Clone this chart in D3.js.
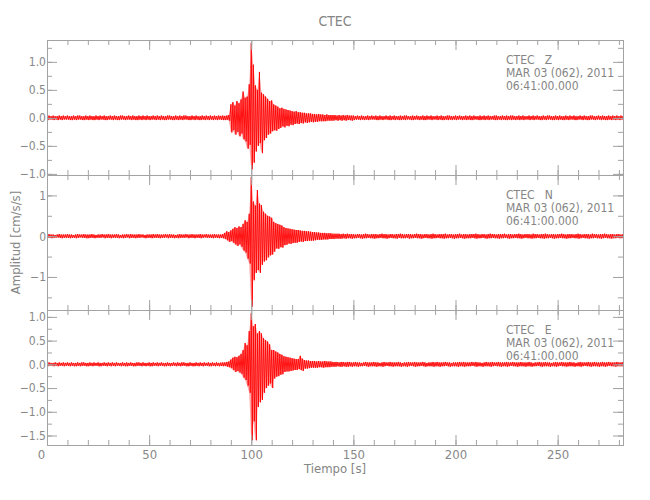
<!DOCTYPE html>
<html><head><meta charset="utf-8">
<script src="https://cdn.jsdelivr.net/npm/d3@7"></script>
<style>
html,body{margin:0;padding:0;background:#fff;}
text{font-family:'DejaVu Sans Condensed','Liberation Sans Narrow','Liberation Sans',sans-serif;fill:#858585;}
</style></head>
<body><svg id="c" width="650" height="500"></svg>
<script>
// ---- data: per-second envelope (max / min) of each component, cm/s/s ----
const sampleStep = 1; // s
const zMax = [
.03,.04,.03,.04,.03,.03,.04,.03,.04,.03, .04,.03,.03,.04,.03,.04,.04,.03,.03,.04,
.03,.04,.03,.03,.04,.03,.04,.03,.04,.03, .03,.04,.03,.04,.03,.03,.04,.04,.03,.03,
.04,.03,.04,.03,.03,.04,.03,.04,.03,.04, .03,.03,.04,.03,.04,.03,.04,.03,.03,.04,
.04,.03,.03,.04,.03,.04,.03,.04,.04,.03, .03,.04,.03,.04,.03,.03,.04,.03,.04,.03,
.04,.03,.04,.03,.04,.035,.04,.035,.04,.05, .24,.28,.22,.30,.26,.33,.47,.36,.38,.60,
1.34,.95,.58,.50,.82,.45,.42,.38,.34,.30, .31,.24,.22,.20,.17,.18,.16,.15,.14,.13,
.12,.11,.12,.10,.10,.09,.09,.08,.08,.08, .07,.07,.06,.07,.06,.06,.05,.06,.05,.05,
.05,.05,.04,.05,.04,.05,.04,.05,.04,.04, .04,.03,.04,.03,.04,.03,.03,.04,.03,.04,
.03,.04,.03,.04,.03,.03,.04,.03,.04,.03, .04,.03,.03,.04,.03,.04,.04,.03,.03,.04,
.03,.04,.03,.03,.04,.03,.04,.03,.04,.03, .03,.04,.03,.04,.03,.03,.04,.04,.03,.03,
.04,.03,.04,.03,.03,.04,.03,.04,.03,.04, .03,.03,.04,.03,.04,.03,.04,.03,.03,.04,
.04,.03,.03,.04,.03,.04,.03,.04,.04,.03, .03,.04,.03,.04,.03,.03,.04,.03,.04,.03,
.04,.03,.03,.04,.03,.04,.04,.03,.03,.04, .03,.04,.03,.03,.04,.03,.04,.03,.04,.03,
.03,.04,.03,.04,.03,.03,.04,.04,.03,.03, .04,.03,.04,.03,.03,.04,.03,.04,.03,.04,
.03,.04,.03];
const zMin = [
-.04,-.03,-.03,-.04,-.03,-.04,-.03,-.04,-.03,-.03, -.03,-.04,-.04,-.03,-.04,-.03,-.03,-.04,-.04,-.03,
-.04,-.03,-.04,-.04,-.03,-.04,-.03,-.03,-.04,-.04, -.03,-.03,-.04,-.03,-.04,-.04,-.03,-.03,-.04,-.03,
-.03,-.04,-.03,-.04,-.04,-.03,-.04,-.03,-.04,-.03, -.04,-.03,-.03,-.04,-.03,-.04,-.03,-.04,-.04,-.03,
-.03,-.04,-.04,-.03,-.04,-.03,-.04,-.03,-.03,-.04, -.04,-.03,-.04,-.03,-.04,-.04,-.03,-.04,-.03,-.04,
-.03,-.04,-.03,-.04,-.03,-.035,-.04,-.04,-.035,-.05, -.26,-.22,-.30,-.25,-.33,-.28,-.38,-.42,-.55,-.48,
-.92,-.80,-.60,-.50,-.45,-.63,-.40,-.36,-.30,-.28, -.24,-.22,-.23,-.20,-.18,-.15,-.17,-.14,-.15,-.12,
-.13,-.11,-.10,-.11,-.09,-.10,-.08,-.09,-.08,-.07, -.08,-.07,-.07,-.06,-.06,-.06,-.06,-.05,-.05,-.05,
-.05,-.04,-.05,-.04,-.05,-.04,-.05,-.04,-.04,-.05, -.04,-.03,-.03,-.04,-.03,-.04,-.03,-.04,-.03,-.03,
-.03,-.04,-.04,-.03,-.04,-.03,-.03,-.04,-.04,-.03, -.04,-.03,-.04,-.04,-.03,-.04,-.03,-.03,-.04,-.04,
-.03,-.03,-.04,-.03,-.04,-.04,-.03,-.03,-.04,-.03, -.03,-.04,-.03,-.04,-.04,-.03,-.04,-.03,-.04,-.03,
-.04,-.03,-.03,-.04,-.03,-.04,-.03,-.04,-.04,-.03, -.03,-.04,-.04,-.03,-.04,-.03,-.04,-.03,-.03,-.04,
-.04,-.03,-.04,-.03,-.04,-.04,-.03,-.04,-.03,-.04, -.03,-.04,-.03,-.04,-.03,-.03,-.04,-.03,-.04,-.03,
-.03,-.04,-.04,-.03,-.04,-.03,-.03,-.04,-.04,-.03, -.04,-.03,-.04,-.04,-.03,-.04,-.03,-.03,-.04,-.04,
-.03,-.03,-.04,-.03,-.04,-.04,-.03,-.03,-.04,-.03, -.03,-.04,-.03,-.04,-.04,-.03,-.04,-.03,-.04,-.03,
-.04,-.03,-.03];
const nMax = [
.04,.05,.04,.04,.03,.04,.05,.04,.04,.04, .05,.04,.04,.03,.04,.05,.04,.04,.05,.04,
.04,.04,.05,.04,.03,.04,.04,.05,.04,.04, .05,.04,.04,.04,.05,.04,.03,.04,.04,.05,
.04,.05,.04,.04,.04,.05,.04,.04,.03,.04, .04,.04,.05,.04,.05,.04,.04,.04,.05,.04,
.05,.04,.04,.03,.04,.05,.04,.04,.05,.04, .04,.05,.04,.04,.04,.05,.04,.04,.05,.04,
.04,.04,.05,.04,.04,.04,.05,.08,.12,.10, .14,.18,.22,.20,.24,.22,.30,.39,.35,.55,
1.45,.85,.75,1.13,.80,.76,.60,.55,.50,.48, .45,.35,.32,.30,.28,.26,.22,.20,.19,.18,
.17,.16,.15,.15,.14,.13,.13,.12,.12,.11, .10,.10,.09,.09,.08,.08,.08,.07,.07,.07,
.06,.06,.06,.06,.05,.06,.05,.06,.05,.05, .05,.04,.05,.05,.04,.05,.06,.05,.04,.05,
.05,.05,.04,.05,.06,.05,.05,.04,.05,.05, .04,.05,.05,.06,.05,.04,.05,.05,.05,.04,
.05,.06,.05,.05,.04,.05,.05,.04,.05,.06, .05,.04,.05,.05,.05,.06,.04,.05,.05,.04,
.05,.05,.06,.04,.05,.05,.04,.05,.05,.05, .06,.05,.04,.05,.05,.04,.05,.06,.05,.05,
.04,.05,.05,.05,.06,.04,.05,.05,.04,.05, .05,.06,.05,.04,.05,.05,.05,.04,.06,.05,
.05,.04,.05,.05,.06,.05,.04,.05,.05,.04, .05,.05,.06,.05,.04,.05,.05,.05,.04,.05,
.06,.05,.04,.05,.05,.05,.04,.06,.05,.05, .04,.05,.05,.06,.05,.04,.05,.05,.04,.05,
.05,.04,.05];
const nMin = [
-.04,-.04,-.05,-.04,-.04,-.03,-.04,-.05,-.04,-.04, -.04,-.05,-.04,-.04,-.05,-.04,-.03,-.04,-.04,-.05,
-.05,-.04,-.04,-.05,-.04,-.04,-.04,-.03,-.05,-.04, -.04,-.05,-.04,-.04,-.04,-.05,-.04,-.05,-.04,-.03,
-.05,-.04,-.04,-.05,-.04,-.04,-.03,-.04,-.05,-.04, -.04,-.05,-.04,-.04,-.04,-.05,-.04,-.04,-.03,-.05,
-.04,-.04,-.05,-.04,-.05,-.04,-.04,-.04,-.03,-.05, -.04,-.04,-.05,-.04,-.04,-.05,-.04,-.03,-.04,-.04,
-.04,-.05,-.04,-.04,-.05,-.04,-.05,-.07,-.10,-.14, -.12,-.16,-.20,-.24,-.20,-.26,-.35,-.40,-.55,-.67,
-1.73,-1.08,-.90,-.83,-.90,-.70,-.62,-.59,-.52,-.47, -.45,-.38,-.30,-.31,-.27,-.28,-.22,-.21,-.18,-.19,
-.17,-.16,-.16,-.14,-.13,-.14,-.12,-.12,-.11,-.11, -.11,-.10,-.09,-.09,-.09,-.08,-.08,-.08,-.07,-.07,
-.07,-.06,-.06,-.06,-.06,-.05,-.06,-.05,-.05,-.06, -.05,-.05,-.04,-.05,-.06,-.05,-.05,-.04,-.05,-.05,
-.06,-.05,-.05,-.04,-.05,-.05,-.06,-.05,-.04,-.05, -.05,-.06,-.04,-.05,-.05,-.05,-.04,-.06,-.05,-.05,
-.04,-.05,-.05,-.06,-.05,-.04,-.05,-.05,-.06,-.05, -.05,-.04,-.05,-.05,-.06,-.05,-.05,-.04,-.05,-.06,
-.05,-.05,-.04,-.05,-.06,-.05,-.05,-.05,-.04,-.05, -.06,-.05,-.05,-.04,-.05,-.06,-.05,-.05,-.04,-.05,
-.05,-.06,-.05,-.05,-.04,-.05,-.06,-.05,-.05,-.04, -.05,-.05,-.06,-.05,-.04,-.05,-.05,-.06,-.05,-.05,
-.04,-.05,-.05,-.06,-.05,-.05,-.04,-.05,-.06,-.05, -.05,-.04,-.05,-.05,-.06,-.05,-.05,-.04,-.05,-.05,
-.06,-.05,-.04,-.05,-.05,-.06,-.05,-.05,-.04,-.05, -.05,-.06,-.05,-.04,-.05,-.05,-.06,-.05,-.05,-.04,
-.05,-.05,-.04];
const eMax = [
.03,.04,.03,.03,.04,.03,.04,.03,.04,.03, .04,.03,.04,.03,.03,.04,.03,.04,.04,.03,
.03,.04,.03,.04,.03,.04,.03,.03,.04,.03, .04,.03,.04,.03,.04,.03,.03,.04,.03,.04,
.03,.04,.03,.03,.04,.04,.03,.04,.03,.03, .04,.03,.04,.03,.04,.03,.04,.03,.03,.04,
.03,.03,.04,.03,.04,.03,.04,.04,.03,.03, .04,.03,.03,.04,.03,.04,.03,.04,.03,.04,
.03,.04,.03,.04,.03,.035,.04,.04,.05,.06, .10,.14,.16,.15,.18,.22,.30,.45,.40,.70,
1.08,.80,.85,.65,.70,.65,.55,.51,.48,.42, .30,.30,.27,.25,.22,.20,.17,.16,.15,.14,
.13,.12,.11,.11,.18,.12,.09,.08,.08,.07, .07,.07,.06,.07,.06,.06,.07,.06,.06,.06,
.05,.05,.05,.04,.05,.05,.04,.05,.05,.04, .04,.05,.04,.04,.03,.04,.05,.04,.04,.04,
.05,.04,.04,.03,.04,.05,.04,.04,.05,.04, .04,.04,.05,.04,.03,.04,.04,.05,.04,.04,
.05,.04,.04,.04,.05,.04,.03,.04,.04,.05, .04,.05,.04,.04,.04,.05,.04,.04,.03,.04,
.04,.04,.05,.04,.05,.04,.04,.04,.05,.04, .05,.04,.04,.03,.04,.05,.04,.04,.05,.04,
.04,.05,.04,.04,.04,.05,.04,.04,.05,.04, .04,.04,.05,.04,.04,.04,.05,.04,.03,.04,
.04,.05,.04,.04,.05,.04,.04,.03,.04,.05, .04,.04,.05,.04,.04,.04,.05,.04,.04,.03,
.04,.05,.04,.04,.04,.05,.04,.04,.05,.04, .04,.04,.05,.04,.04,.05,.04,.04,.04,.05,
.04,.04,.05];
const eMin = [
-.04,-.03,-.03,-.04,-.03,-.04,-.03,-.03,-.04,-.03, -.03,-.04,-.03,-.04,-.04,-.03,-.04,-.03,-.03,-.04,
-.04,-.03,-.04,-.03,-.03,-.04,-.04,-.03,-.03,-.04, -.03,-.04,-.03,-.04,-.03,-.03,-.04,-.03,-.04,-.04,
-.03,-.03,-.04,-.04,-.03,-.03,-.04,-.03,-.04,-.03, -.04,-.04,-.03,-.03,-.04,-.03,-.03,-.04,-.04,-.03,
-.04,-.03,-.03,-.04,-.03,-.04,-.03,-.03,-.04,-.04, -.03,-.04,-.04,-.03,-.04,-.03,-.04,-.03,-.03,-.04,
-.04,-.03,-.04,-.03,-.04,-.035,-.04,-.035,-.05,-.06, -.08,-.12,-.16,-.14,-.17,-.20,-.28,-.33,-.45,-.60,
-1.60,-1.20,-1.60,-.90,-.80,-.75,-.60,-.50,-.45,-.40, -.50,-.30,-.26,-.25,-.22,-.21,-.16,-.15,-.15,-.14,
-.13,-.12,-.12,-.10,-.12,-.14,-.09,-.09,-.08,-.07, -.07,-.07,-.07,-.06,-.06,-.07,-.06,-.06,-.06,-.05,
-.05,-.05,-.04,-.05,-.05,-.04,-.05,-.05,-.04,-.05, -.04,-.04,-.05,-.04,-.04,-.03,-.04,-.05,-.04,-.04,
-.04,-.05,-.04,-.04,-.05,-.04,-.03,-.04,-.04,-.05, -.04,-.04,-.04,-.05,-.04,-.04,-.05,-.04,-.03,-.04,
-.05,-.04,-.04,-.03,-.04,-.05,-.04,-.04,-.04,-.05, -.04,-.04,-.05,-.04,-.04,-.03,-.04,-.05,-.04,-.04,
-.04,-.05,-.04,-.04,-.05,-.04,-.04,-.04,-.03,-.04, -.05,-.04,-.04,-.05,-.04,-.04,-.04,-.05,-.04,-.03,
-.04,-.04,-.05,-.04,-.04,-.05,-.04,-.03,-.04,-.04, -.05,-.04,-.04,-.04,-.05,-.04,-.04,-.05,-.04,-.04,
-.03,-.04,-.05,-.04,-.04,-.04,-.05,-.04,-.04,-.05, -.04,-.03,-.04,-.04,-.05,-.04,-.04,-.04,-.05,-.04,
-.04,-.05,-.04,-.03,-.04,-.04,-.05,-.04,-.04,-.04, -.05,-.04,-.04,-.05,-.04,-.03,-.04,-.04,-.05,-.04,
-.04,-.04,-.05];

const components = ["Z", "N", "E"];
const stationName = "CTEC";
const dateLine = "MAR 03 (062), 2011";
const timeLine = "06:41:00.000";
const timeRange = [0, 282];
const xMajorTicks = [0, 50, 100, 150, 200, 250];
const xMinorTicks = d3.range(0, 290, 10);
const yRanges = [[-1.02, 1.39], [-1.81, 1.50], [-1.70, 1.145]];
const yMajorTicks = [[-1, -0.5, 0, 0.5, 1], [-1, 0, 1], [-1.5, -1, -0.5, 0, 0.5, 1]];
const yMinorTicks = [d3.range(-1, 1.3, 0.25), d3.range(-1.5, 1.6, 0.5), d3.range(-1.5, 1.1, 0.25)];
const yTickFormats = [".1f", ".0f", ".1f"];
const xTitle = "Tiempo [s]";
const yTitle = "Amplitud [cm/s/s]";

// ---- layout ----
const svg = d3.select("#c");
const L = 47, R = 623;
const panelTops = [40, 175, 310], panelH = 135;
const axisColor = "#a3a3a3";
const textColor = "#888888";
const x = d3.scaleLinear().domain(timeRange).range([L, R]);
const series = [[zMax, zMin], [nMax, nMin], [eMax, eMin]];

svg.append("text").attr("x", (L + R) / 2).attr("y", 26).attr("text-anchor", "middle")
  .style("font-size", "14px").text(stationName);

function fmtMinus(f) { const g = d3.format(f); return v => g(v).replace("-", "\u2212"); }

series.forEach(([hi, lo], p) => {
  const top = panelTops[p], bot = top + panelH;
  const y = d3.scaleLinear().domain(yRanges[p]).range([bot, top]);
  const g = svg.append("g");
  const cid = "clip" + p;
  svg.append("clipPath").attr("id", cid).append("rect").attr("x", L).attr("y", top).attr("width", R - L).attr("height", panelH);

  // waveform drawn from its per-sample max/min envelope
  const pts = [];
  hi.forEach((v, i) => { pts.push([i * sampleStep, v]); pts.push([i * sampleStep + sampleStep / 2, lo[i]]); });
  g.append("path").attr("clip-path", `url(#${cid})`)
    .attr("d", d3.area().x((d, i) => x(i * sampleStep)).y0((d, i) => y(lo[i])).y1(d => y(d))(hi))
    .attr("fill", "#ff0000").attr("fill-opacity", 0.35).attr("stroke", "none");
  g.append("path").attr("clip-path", `url(#${cid})`)
    .attr("d", d3.line().x(d => x(d[0])).y(d => y(d[1]))(pts))
    .attr("fill", "none").attr("stroke", "#ff0000").attr("stroke-width", 0.9);

  // axes (inward ticks on all four sides)
  const style = sel => { sel.selectAll("path,line").attr("stroke", axisColor); };
  const yl = g.append("g").attr("transform", `translate(${L},0)`)
    .call(d3.axisLeft(y).tickValues(yMajorTicks[p]).tickSize(-10).tickSizeOuter(0).tickPadding(1).tickFormat(fmtMinus(yTickFormats[p])));
  yl.call(style); yl.selectAll("text").style("font-size", "12px").style("fill", textColor).attr("font-family", null);
  g.append("g").attr("transform", `translate(${L},0)`)
    .call(d3.axisLeft(y).tickValues(yMinorTicks[p]).tickSize(-5).tickSizeOuter(0).tickFormat("")).call(style);
  g.append("g").attr("transform", `translate(${R},0)`)
    .call(d3.axisRight(y).tickValues(yMajorTicks[p]).tickSize(-10).tickSizeOuter(0).tickFormat("")).call(style);
  g.append("g").attr("transform", `translate(${R},0)`)
    .call(d3.axisRight(y).tickValues(yMinorTicks[p]).tickSize(-5).tickSizeOuter(0).tickFormat("")).call(style);
  g.append("g").attr("transform", `translate(0,${top})`)
    .call(d3.axisTop(x).tickValues(xMajorTicks).tickSize(-10).tickSizeOuter(0).tickFormat("")).call(style);
  g.append("g").attr("transform", `translate(0,${top})`)
    .call(d3.axisTop(x).tickValues(xMinorTicks).tickSize(-5).tickSizeOuter(0).tickFormat("")).call(style);
  const xb = g.append("g").attr("transform", `translate(0,${bot})`)
    .call(d3.axisBottom(x).tickValues(xMajorTicks).tickSize(-10).tickSizeOuter(0).tickPadding(5)
      .tickFormat(p === 2 ? d3.format("d") : ""));
  xb.call(style); xb.selectAll("text").style("font-size", "13px").style("fill", textColor).attr("font-family", null);
  xb.selectAll("text").filter(d => d === 0).attr("dx", -6);
  g.append("g").attr("transform", `translate(0,${bot})`)
    .call(d3.axisBottom(x).tickValues(xMinorTicks).tickSize(-5).tickSizeOuter(0).tickFormat("")).call(style);

  // annotation
  const ann = g.append("g").attr("transform", `translate(506,${top})`).style("font-size", "12px");
  ann.append("text").attr("y", 24).text(stationName + "\u00a0\u00a0\u00a0" + components[p]);
  ann.append("text").attr("y", 37).text(dateLine);
  ann.append("text").attr("y", 50).text(timeLine);
});

svg.append("text").attr("x", (L + R) / 2).attr("y", 473).attr("text-anchor", "middle")
  .style("font-size", "13px").text(xTitle);
svg.append("text").attr("transform", `translate(20,${panelTops[1] + panelH / 2}) rotate(-90)`)
  .attr("text-anchor", "middle").style("font-size", "13px").text(yTitle);
</script></body></html>
